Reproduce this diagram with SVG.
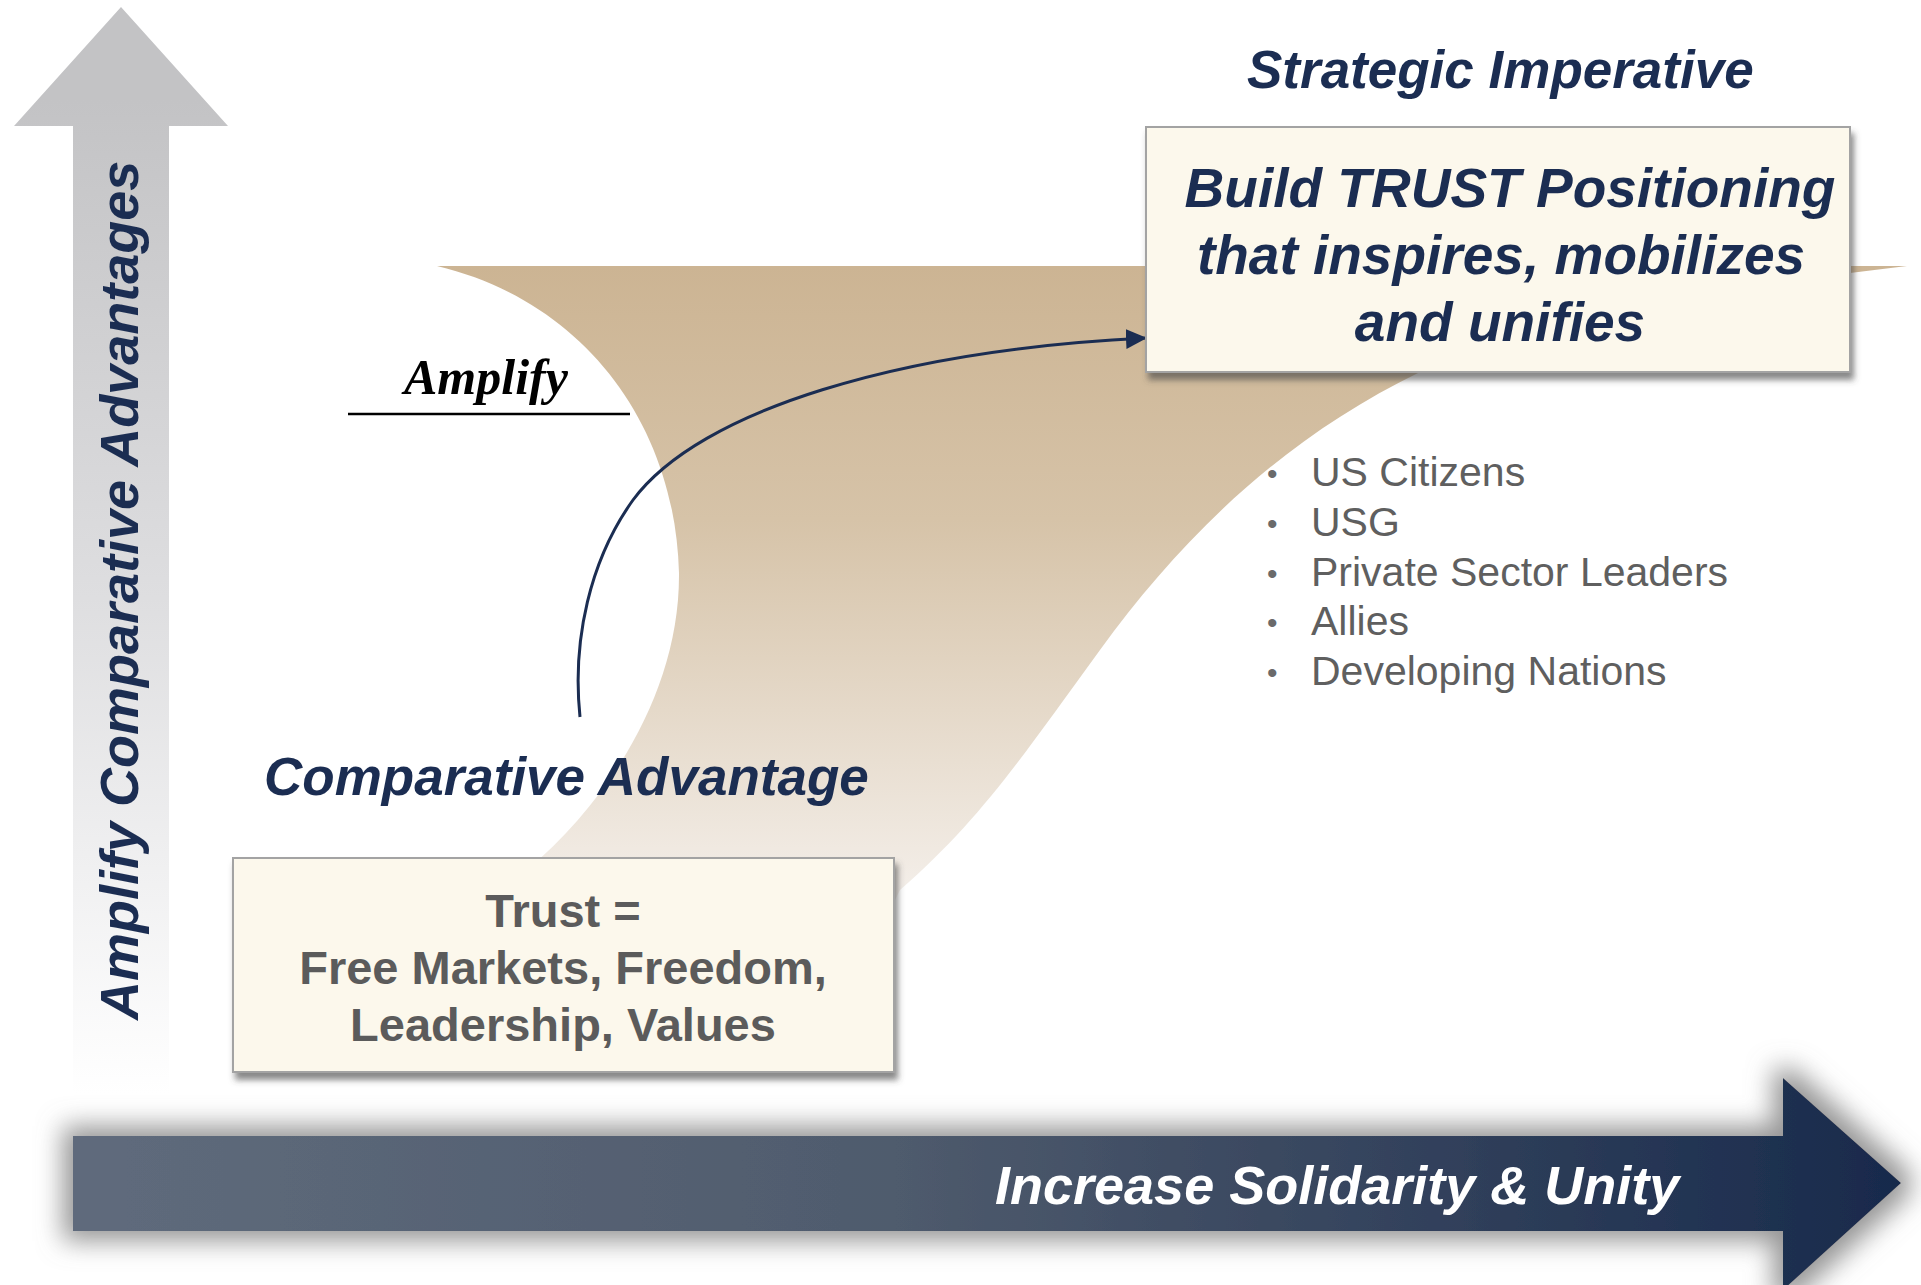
<svg xmlns="http://www.w3.org/2000/svg" width="1921" height="1285" viewBox="0 0 1921 1285">
  <style>
    .navy { fill: #1b2d52; font-family: "Liberation Sans", Arial, sans-serif; font-weight: bold; font-style: italic; }
    .grayb { fill: #5b5b5b; font-family: "Liberation Sans", Arial, sans-serif; font-weight: bold; }
    .bullet { fill: #5f5f5f; font-family: "Liberation Sans", Arial, sans-serif; font-size: 41px; }
    .dot { fill: #6a6a6a; font-family: "Liberation Sans", Arial, sans-serif; font-size: 30px; }
    .box { fill: #fcf8ec; stroke: #a3a3a3; stroke-width: 2; }
    .conn { fill: none; stroke: #1b2d52; stroke-width: 3; }
  </style>
  <defs>
    <linearGradient id="gVert" gradientUnits="userSpaceOnUse" x1="0" y1="100" x2="0" y2="1095">
      <stop offset="0" stop-color="#c3c3c5"/>
      <stop offset="0.5" stop-color="#dedee0"/>
      <stop offset="1" stop-color="#ffffff"/>
    </linearGradient>
    <linearGradient id="gHoriz" gradientUnits="userSpaceOnUse" x1="73" y1="0" x2="1900" y2="0">
      <stop offset="0" stop-color="#5f6b7c"/>
      <stop offset="0.45" stop-color="#4f5b6d"/>
      <stop offset="1" stop-color="#182a4c"/>
    </linearGradient>
    <linearGradient id="gRibbon" gradientUnits="userSpaceOnUse" x1="0" y1="266" x2="0" y2="900">
      <stop offset="0" stop-color="#ccb493"/>
      <stop offset="0.4" stop-color="#d6c3a8"/>
      <stop offset="1" stop-color="#f4efea"/>
    </linearGradient>
    <filter id="halo" x="-10%" y="-60%" width="120%" height="220%">
      <feMorphology in="SourceAlpha" operator="dilate" radius="10" result="d"/>
      <feGaussianBlur in="d" stdDeviation="13" result="b"/>
      <feFlood flood-color="#8a8a8a" flood-opacity="0.9"/>
      <feComposite in2="b" operator="in" result="s"/>
      <feMerge><feMergeNode in="s"/><feMergeNode in="SourceGraphic"/></feMerge>
    </filter>
    <filter id="boxShadow" x="-10%" y="-15%" width="120%" height="135%">
      <feGaussianBlur in="SourceAlpha" stdDeviation="3" result="b"/>
      <feOffset in="b" dx="3" dy="7" result="o"/>
      <feFlood flood-color="#4a4a4a" flood-opacity="0.65"/>
      <feComposite in2="o" operator="in" result="s"/>
      <feMerge><feMergeNode in="s"/><feMergeNode in="SourceGraphic"/></feMerge>
    </filter>
    <marker id="arrowHead" markerUnits="userSpaceOnUse" markerWidth="22" markerHeight="22" viewBox="0 0 22 22" refX="20" refY="11" orient="auto">
      <path d="M0,1 L21,11 L0,21 Z" fill="#1b2d52"/>
    </marker>
  </defs>

  <rect x="0" y="0" width="1921" height="1285" fill="#ffffff"/>

  <!-- vertical axis arrow -->
  <g id="axis-y">
    <polygon points="121,7 228,126 169,126 169,1095 73,1095 73,126 14,126" fill="url(#gVert)"/>
    <text class="navy" font-size="54" transform="translate(138,1020) rotate(-90)">Amplify Comparative Advantages</text>
  </g>

  <!-- ribbon background shape -->
  <g id="ribbon">
    <path d="M437,266 L1907,266 L1850,273 C1700,290 1520,320 1420,372 C1280,440 1180,540 1100,650 C1020,760 980,820 900,890 L880,930 L500,930 L527,870 C610,800 680,690 679,573 C675,420 580,300 437,266 Z" fill="url(#gRibbon)"/>
  </g>

  <!-- horizontal axis arrow -->
  <g id="axis-x">
    <polygon points="73,1136 1783,1136 1783,1078 1901,1183 1783,1290 1783,1231 73,1231" fill="url(#gHoriz)" filter="url(#halo)"/>
    <text class="navy" font-size="54" x="995" y="1204" style="fill:#ffffff">Increase Solidarity &amp; Unity</text>
  </g>

  <!-- Amplify label -->
  <g id="label-amplify">
    <text x="404" y="394" font-family="'Liberation Serif', 'Times New Roman', serif" font-weight="bold" font-style="italic" font-size="50" fill="#000000">Amplify</text>
    <line x1="348" y1="414" x2="630" y2="414" stroke="#000000" stroke-width="2.5"/>
  </g>

  <!-- connector -->
  <g id="connectors">
    <path class="conn" d="M580,717 C572,640 590,560 633,500 C700,410 900,350 1146,338" marker-end="url(#arrowHead)"/>
  </g>

  <!-- Strategic Imperative node -->
  <g id="node-strategic">
    <text class="navy" font-size="53" x="1247" y="88">Strategic Imperative</text>
    <rect class="box" x="1146" y="127" width="704" height="245" filter="url(#boxShadow)"/>
    <text class="navy" font-size="55" text-anchor="middle" x="1510" y="207">Build TRUST Positioning</text>
    <text class="navy" font-size="55" text-anchor="middle" x="1501" y="274">that inspires, mobilizes</text>
    <text class="navy" font-size="55" text-anchor="middle" x="1500" y="341">and unifies</text>
  </g>

  <!-- audiences list -->
  <g id="node-audiences">
    <text class="dot" x="1267" y="484">•</text>
    <text class="bullet" x="1311" y="486">US Citizens</text>
    <text class="dot" x="1267" y="534">•</text>
    <text class="bullet" x="1311" y="536">USG</text>
    <text class="dot" x="1267" y="584">•</text>
    <text class="bullet" x="1311" y="586">Private Sector Leaders</text>
    <text class="dot" x="1267" y="633">•</text>
    <text class="bullet" x="1311" y="635">Allies</text>
    <text class="dot" x="1267" y="683">•</text>
    <text class="bullet" x="1311" y="685">Developing Nations</text>
  </g>

  <!-- Comparative Advantage node -->
  <g id="node-comparative">
    <text class="navy" font-size="53" x="264" y="795">Comparative Advantage</text>
    <rect class="box" x="233" y="858" width="661" height="214" filter="url(#boxShadow)"/>
    <text class="grayb" font-size="47" text-anchor="middle" x="563" y="927">Trust =</text>
    <text class="grayb" font-size="47" text-anchor="middle" x="563" y="984">Free Markets, Freedom,</text>
    <text class="grayb" font-size="47" text-anchor="middle" x="563" y="1041">Leadership, Values</text>
  </g>
</svg>
